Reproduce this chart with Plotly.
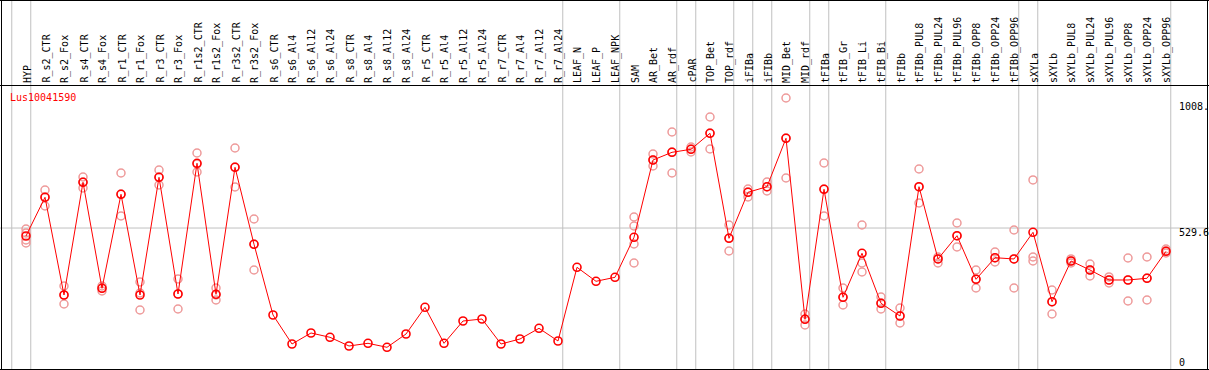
import plotly.graph_objects as go

categories = ["HYP", "R_s2_CTR", "R_s2_Fox", "R_s4_CTR", "R_s4_Fox", "R_r1_CTR", "R_r1_Fox",
              "R_r3_CTR", "R_r3_Fox", "R_r1s2_CTR", "R_r1s2_Fox", "R_r3s2_CTR", "R_r3s2_Fox",
              "R_s6_CTR", "R_s6_Al4", "R_s6_Al12", "R_s6_Al24", "R_s8_CTR", "R_s8_Al4",
              "R_s8_Al12", "R_s8_Al24", "R_r5_CTR", "R_r5_Al4", "R_r5_Al12", "R_r5_Al24",
              "R_r7_CTR", "R_r7_Al4", "R_r7_Al12", "R_r7_Al24", "LEAF_N", "LEAF_P", "LEAF_NPK",
              "SAM", "AR_Bet", "AR_rdf", "cPAR", "TOP_Bet", "TOP_rdf", "iFIBa", "iFIBb",
              "MID_Bet", "MID_rdf", "tFIBa", "tFIB_Gr", "tFIB_Li", "tFIB_Bi", "tFIBb",
              "tFIBb_PUL8", "tFIBb_PUL24", "tFIBb_PUL96", "tFIBb_OPP8", "tFIBb_OPP24",
              "tFIBb_OPP96", "sXYLa", "sXYLb", "sXYLb_PUL8", "sXYLb_PUL24", "sXYLb_PUL96",
              "sXYLb_OPP8", "sXYLb_OPP24", "sXYLb_OPP96"]

means = [500.2, 642.9, 282.6, 698.3, 307.3, 654.0, 282.6, 716.7, 286.2, 768.4, 285.1, 753.6,
         469.6, 208.8, 101.8, 142.4, 126.5, 94.4, 104.4, 89.6, 138.7, 237.2, 104.4, 186.6,
         194.0, 101.8, 120.3, 159.7, 112.9, 384.7, 333.1, 347.8, 495.4, 780.5, 808.9, 820.0,
         879.0, 491.7, 661.4, 682.0, 860.6, 192.9, 672.5, 274.1, 436.4, 251.9, 205.1, 682.0,
         415.4, 501.3, 340.5, 420.1, 415.4, 513.8, 257.8, 408.0, 374.8, 337.9, 337.9, 344.2,
         443.7]

samples = {
    "HYP": [526.0, 511.3, 485.4, 474.4],
    "R_s2_CTR": [669.9, 644.1, 610.8],
    "R_s2_Fox": [315.8, 282.6, 249.4],
    "R_s4_CTR": [717.8, 699.4, 677.2],
    "R_s4_Fox": [315.8, 308.4, 297.3],
    "R_r1_CTR": [732.6, 655.1, 574.0],
    "R_r1_Fox": [330.5, 289.9, 227.2],
    "R_r3_CTR": [743.6, 717.8, 688.3],
    "R_r3_Fox": [341.6, 286.2, 230.9],
    "R_r1s2_CTR": [806.3, 765.8, 736.3],
    "R_r1s2_Fox": [308.4, 282.6, 264.1],
    "R_r3s2_CTR": [824.8, 754.7, 680.9],
    "R_r3s2_Fox": [562.9, 470.7, 374.8],
    "SAM": [570.3, 537.1, 470.7, 400.6],
    "AR_Bet": [802.7, 780.5, 758.4],
    "AR_rdf": [883.8, 810.0, 732.6],
    "cPAR": [828.5, 821.1, 810.0],
    "TOP_Bet": [939.1, 880.1, 821.1],
    "TOP_rdf": [540.8, 492.8, 444.9],
    "iFIBa": [673.6, 662.5, 644.1],
    "iFIBb": [699.4, 680.9, 666.2],
    "MID_Bet": [1009.2, 861.7, 714.1],
    "MID_rdf": [212.5, 194.0, 171.9],
    "tFIBa": [769.5, 673.6, 574.0],
    "tFIB_Gr": [308.4, 275.2, 245.7],
    "tFIB_Li": [540.8, 400.6, 367.4],
    "tFIB_Bi": [275.2, 253.0, 230.9],
    "tFIBb": [234.6, 205.1, 179.3],
    "tFIBb_PUL8": [747.3, 680.9, 621.9],
    "tFIBb_PUL24": [422.7, 415.4, 400.6],
    "tFIBb_PUL96": [548.1, 500.2, 459.6],
    "tFIBb_OPP8": [374.8, 341.6, 308.4],
    "tFIBb_OPP24": [441.2, 419.0, 404.3],
    "tFIBb_OPP96": [522.3, 415.4, 308.4],
    "sXYLa": [706.8, 422.7, 408.0],
    "sXYLb": [301.0, 256.7, 212.5],
    "sXYLb_PUL8": [415.4, 408.0, 400.6],
    "sXYLb_PUL24": [396.9, 374.8, 352.6],
    "sXYLb_PUL96": [349.0, 337.9, 326.8],
    "sXYLb_OPP8": [419.0, 337.9, 260.4],
    "sXYLb_OPP24": [422.7, 345.3, 264.1],
    "sXYLb_OPP96": [452.2, 444.9, 437.5],
}

group_ends = ["R_r7_Al24", "LEAF_NPK", "AR_rdf", "cPAR", "TOP_rdf", "iFIBa", "iFIBb",
              "MID_rdf", "tFIBa", "tFIB_Bi", "tFIBb_OPP96", "sXYLa", "sXYLb_OPP96"]

gene_id = "Lus10041590"
y_max_label = "1008."
y_mid_value = 529.6
y_mid_label = "529.6"
y_zero_label = "0"

W, H = 1209, 370
FONT = "DejaVu Sans Mono"

sx, sy = [], []
for c, vals in samples.items():
    for v in vals:
        sx.append(c)
        sy.append(v)

fig = go.Figure()
fig.add_trace(go.Scatter(
    x=categories, y=means, mode="none", hoverinfo="skip", showlegend=False))
fig.add_trace(go.Scatter(
    x=sx, y=sy, mode="markers",
    marker=dict(symbol="circle-open", size=8, color="#ee9a9a", line=dict(width=1.5, color="#ee9a9a")),
    hoverinfo="skip", showlegend=False))
fig.add_trace(go.Scatter(
    x=categories, y=means, mode="lines+markers",
    line=dict(color="#ff0000", width=1),
    marker=dict(symbol="circle-open", size=8, color="#ff0000", line=dict(width=1.6, color="#ff0000")),
    showlegend=False))

shapes = []
idx = {c: i for i, c in enumerate(categories)}
sep_positions = [-1 + 0.25, 0 + 0.25] + [idx[c] + 0.25 for c in group_ends]
for p in sep_positions:
    shapes.append(dict(type="line", xref="x", yref="paper", x0=p, x1=p, y0=0, y1=1,
                       line=dict(color="#c0c0c0", width=1), layer="below"))
shapes.append(dict(type="line", xref="paper", yref="y", x0=0, x1=1, y0=y_mid_value, y1=y_mid_value,
                   line=dict(color="#c0c0c0", width=1), layer="below"))

def px(xp):
    return xp / W
def py(yp):
    return 1 - yp / H

frame = [(0, 0.5, W, 0.5), (0, 85.5, W, 85.5), (1.5, 0, 1.5, H), (1207.5, 0, 1207.5, H), (0, 369.5, W, 369.5)]
for x0, y0, x1, y1 in frame:
    shapes.append(dict(type="line", xref="paper", yref="paper", x0=px(x0), x1=px(x1), y0=py(y0), y1=py(y1),
                       line=dict(color="#000000", width=1)))

annotations = []
for c in categories:
    annotations.append(dict(x=c, y=py(84), xref="x", yref="paper", text=c, showarrow=False,
                            textangle=-90, xanchor="center", yanchor="bottom", xshift=1,
                            font=dict(family=FONT, size=10, color="#000000"), borderpad=0))
annotations.append(dict(x=px(9), y=py(97), xref="paper", yref="paper", text=gene_id, showarrow=False,
                        xanchor="left", yanchor="middle", font=dict(family=FONT, size=10, color="#ff0000"),
                        borderpad=0))
for txt, yp in [(y_max_label, 107), (y_mid_label, 232), (y_zero_label, 362)]:
    annotations.append(dict(x=px(1178), y=py(yp), xref="paper", yref="paper", text=txt, showarrow=False,
                            xanchor="left", yanchor="middle", font=dict(family=FONT, size=10, color="#000000"),
                            borderpad=0))

x0 = -26 / 19
fig.update_layout(
    width=W, height=H,
    margin=dict(l=0, r=0, t=0, b=0),
    paper_bgcolor="white", plot_bgcolor="white",
    xaxis=dict(range=[x0, x0 + W / 19], showgrid=False, zeroline=False, showticklabels=False,
               ticks="", showline=False, type="category", categoryorder="array",
               categoryarray=categories, fixedrange=True),
    yaxis=dict(range=[5.9, 1370.7], showgrid=False, zeroline=False, showticklabels=False,
               ticks="", showline=False, fixedrange=True),
    shapes=shapes, annotations=annotations,
)
fig.write_html("out.html", config={"displayModeBar": False},
               post_script="document.body.style.margin='0';document.body.style.overflow='hidden';")
